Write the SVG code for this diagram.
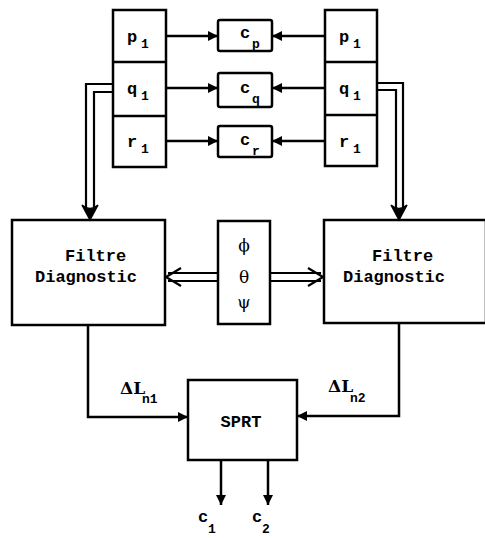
<svg xmlns="http://www.w3.org/2000/svg" width="485" height="538" viewBox="0 0 485 538">
<style>
.box{fill:#fff;stroke:#000;stroke-width:2.5}
.ln{fill:none;stroke:#000;stroke-width:2.5}
.dl{fill:none;stroke:#000;stroke-width:2.2}
.t{font-family:"Liberation Mono","Courier New",monospace;font-weight:bold;font-size:17px;fill:#000}
.s{font-family:"Liberation Mono","Courier New",monospace;font-weight:bold;font-size:13px;fill:#000}
.g{font-family:"DejaVu Serif","Liberation Serif",serif;font-size:17px;fill:#000}
</style>
<defs>
<marker id="ah" viewBox="0 0 10 10" refX="10" refY="5" markerWidth="4" markerHeight="4" orient="auto" markerUnits="strokeWidth">
<path d="M0,0 L10,5 L0,10 z" fill="#000"/>
</marker>
</defs>
<rect width="485" height="538" fill="#fff"/>
<g id="left-col">
<rect class="box" x="113" y="10" width="53" height="157"/>
<line class="ln" x1="113" y1="62" x2="166" y2="62"/>
<line class="ln" x1="113" y1="116" x2="166" y2="116"/>
<text class="t" x="127" y="42" font-size="18">p</text><text class="s" x="141" y="48">1</text>
<text class="t" x="127" y="94" font-size="18">q</text><text class="s" x="141" y="100">1</text>
<text class="t" x="127" y="147" font-size="18">r</text><text class="s" x="141" y="153">1</text>
</g>
<g id="right-col">
<rect class="box" x="325" y="10" width="52" height="156"/>
<line class="ln" x1="325" y1="62" x2="377" y2="62"/>
<line class="ln" x1="325" y1="115" x2="377" y2="115"/>
<text class="t" x="339" y="42" font-size="18">p</text><text class="s" x="353" y="48">1</text>
<text class="t" x="339" y="94" font-size="18">q</text><text class="s" x="353" y="100">1</text>
<text class="t" x="339" y="147" font-size="18">r</text><text class="s" x="353" y="153">1</text>
</g>
<g id="cp">
<rect class="box" x="218" y="20" width="54" height="31" rx="2"/>
<text class="t" x="240" y="38" font-size="18">c</text><text class="s" x="252" y="48">p</text>
</g>
<g id="cq">
<rect class="box" x="218" y="73" width="54" height="34" rx="2"/>
<text class="t" x="240" y="93" font-size="18">c</text><text class="s" x="252" y="103">q</text>
</g>
<g id="cr">
<rect class="box" x="218" y="126" width="54" height="31" rx="2"/>
<text class="t" x="240" y="145" font-size="18">c</text><text class="s" x="252" y="155">r</text>
</g>
<g id="filtre-left">
<rect class="box" x="12" y="220" width="153" height="105"/>
<text class="t" x="65" y="261">Filtre</text>
<text class="t" x="35" y="282">Diagnostic</text>
</g>
<g id="filtre-right">
<rect class="box" x="324" y="220" width="162" height="103"/>
<text class="t" x="372" y="261">Filtre</text>
<text class="t" x="343" y="282">Diagnostic</text>
</g>
<g id="angles">
<rect class="box" x="218" y="221" width="52" height="103"/>
<text class="g" x="244" y="251" text-anchor="middle">ϕ</text>
<text class="g" x="244" y="283" text-anchor="middle">θ</text>
<text class="g" x="244" y="308" text-anchor="middle">ψ</text>
</g>
<g id="sprt">
<rect class="box" x="188" y="380" width="109" height="80"/>
<text class="t" x="241" y="427" text-anchor="middle" font-size="18">SPRT</text>
</g>
<g id="labels">
<text class="g" x="120" y="394" font-family="Liberation Mono" font-weight="bold" font-size="17">ΔL</text><text class="s" x="142" y="403" font-size="15">n1</text>
<text class="g" x="328" y="392" font-family="Liberation Mono" font-weight="bold" font-size="17">ΔL</text><text class="s" x="350" y="402" font-size="15">n2</text>
<text class="t" x="198" y="522" font-size="18">c</text><text class="s" x="208" y="533" font-size="15">1</text>
<text class="t" x="252" y="522" font-size="18">c</text><text class="s" x="262" y="533" font-size="15">2</text>
</g>
<g id="connectors">
<line class="ln" x1="166" y1="36" x2="218" y2="36" marker-end="url(#ah)"/>
<line class="ln" x1="325" y1="36" x2="272" y2="36" marker-end="url(#ah)"/>
<line class="ln" x1="166" y1="88" x2="218" y2="88" marker-end="url(#ah)"/>
<line class="ln" x1="325" y1="88" x2="272" y2="88" marker-end="url(#ah)"/>
<line class="ln" x1="166" y1="141" x2="218" y2="141" marker-end="url(#ah)"/>
<line class="ln" x1="325" y1="141" x2="272" y2="141" marker-end="url(#ah)"/>
<path class="dl" d="M113,84 H86 V212"/>
<path class="dl" d="M113,92 H94 V212"/>
<path d="M82,205 L90,220 L98,205 Q90,212 82,205 z" fill="#000" stroke="#000" stroke-width="1.5"/>
<path class="dl" d="M377,83 H403 V212"/>
<path class="dl" d="M377,90 H396 V212"/>
<path d="M391,205 L399,220 L407,205 Q399,212 391,205 z" fill="#000" stroke="#000" stroke-width="1.5"/>
<line class="dl" x1="218" y1="273" x2="168" y2="273"/>
<line class="dl" x1="218" y1="281" x2="168" y2="281"/>
<path class="dl" d="M181,268 L166,277 L181,286"/>
<line class="dl" x1="270" y1="273" x2="321" y2="273"/>
<line class="dl" x1="270" y1="281" x2="321" y2="281"/>
<path class="dl" d="M308,268 L323,277 L308,286"/>
<path class="ln" d="M88,325 V417 H188" marker-end="url(#ah)"/>
<path class="ln" d="M399,323 V416 H297" marker-end="url(#ah)"/>
<line class="ln" x1="221" y1="460" x2="221" y2="505" marker-end="url(#ah)"/>
<line class="ln" x1="268" y1="460" x2="268" y2="505" marker-end="url(#ah)"/>
</g>
</svg>
